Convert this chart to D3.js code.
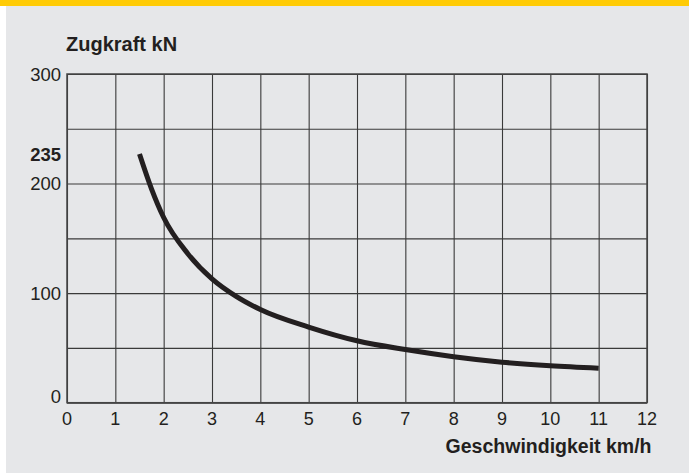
<!DOCTYPE html>
<html>
<head>
<meta charset="utf-8">
<script src="https://cdn.jsdelivr.net/npm/d3@7"></script>
<style>
  body { margin: 0; background: #ffffff; }
  svg { display: block; }
  .tick-label { font-family: "Liberation Sans", Arial, Helvetica, sans-serif; fill: #231f20; }
  .title { font-family: "Liberation Sans", Arial, Helvetica, sans-serif; font-weight: bold; fill: #231f20; }
</style>
</head>
<body>
<div id="chart"></div>
<script>
// Zugkraft over Geschwindigkeit
const speed = [1.5, 1.75, 2, 2.5, 3, 3.5, 4, 5, 6, 7, 8, 9, 10, 11];
const force = [227, 195, 169, 136, 113, 97, 85, 69, 56.5, 48.5, 42, 37, 33.7, 31.5];

const xTicks = [0, 1, 2, 3, 4, 5, 6, 7, 8, 9, 10, 11, 12];
const yGrid = [0, 50, 100, 150, 200, 250, 300];
const yLabelValues = [0, 100, 200, 227, 300];
const yLabelTexts = ["0", "100", "200", "235", "300"];

function createChart() {
    const W = 689, H = 473;
    const margin = { top: 74, right: 42, bottom: 70, left: 67 };
    const width = W - margin.left - margin.right;
    const height = H - margin.top - margin.bottom - 0.3;

    const svg = d3.select("#chart").append("svg")
        .attr("width", W)
        .attr("height", H);

    // background panel + yellow stripe
    svg.append("rect").attr("x", 6).attr("y", 6).attr("width", W - 6).attr("height", H - 6)
        .attr("fill", "#e6e7e9");
    svg.append("rect").attr("x", 0).attr("y", 0).attr("width", W).attr("height", 6)
        .attr("fill", "#ffcb05");

    const g = svg.append("g")
        .attr("transform", `translate(${margin.left},${margin.top})`);

    const x = d3.scaleLinear().domain([0, 12]).range([0, width]);
    const y = d3.scaleLinear().domain([0, 300]).range([height, 0]);

    // grid
    g.append("g")
        .attr("class", "grid")
        .attr("transform", `translate(0,${height})`)
        .call(d3.axisBottom(x).tickValues(xTicks).tickSize(-height).tickFormat(""))
        .call(a => a.select(".domain").remove());

    g.append("g")
        .attr("class", "grid")
        .call(d3.axisLeft(y).tickValues(yGrid).tickSize(-width).tickFormat(""))
        .call(a => a.select(".domain").remove());

    g.selectAll(".grid line")
        .attr("stroke", "#3a3a3a")
        .attr("stroke-width", 1.1);

    // frame
    g.append("rect")
        .attr("x", 0).attr("y", 0)
        .attr("width", width).attr("height", height)
        .attr("fill", "none")
        .attr("stroke", "#444")
        .attr("stroke-width", 1.5);

    // x labels
    g.selectAll(".xlab")
        .data(xTicks)
        .enter().append("text")
        .attr("class", "tick-label")
        .attr("x", d => x(d))
        .attr("y", height + 21.8)
        .attr("text-anchor", "middle")
        .style("font-size", "18px")
        .text(d => d);

    // y labels
    g.selectAll(".ylab")
        .data(yLabelValues)
        .enter().append("text")
        .attr("class", "tick-label")
        .attr("x", -6)
        .attr("y", d => y(d))
        .attr("dy", (d, i) => d === 0 ? "0.02em" : "0.36em")
        .attr("text-anchor", "end")
        .style("font-size", "18.5px")
        .style("font-weight", (d, i) => yLabelTexts[i] === "235" ? "bold" : "normal")
        .text((d, i) => yLabelTexts[i]);

    // axis titles
    svg.append("text")
        .attr("class", "title")
        .attr("x", 66)
        .attr("y", 50.7)
        .style("font-size", "20px")
        .text("Zugkraft kN");

    svg.append("text")
        .attr("class", "title")
        .attr("x", 651.5)
        .attr("y", 453)
        .attr("text-anchor", "end")
        .style("font-size", "19.5px")
        .text("Geschwindigkeit km/h");

    // curve
    const line = d3.line()
        .x(d => x(d[0]))
        .y(d => y(d[1]))
        .curve(d3.curveMonotoneX);

    g.append("path")
        .datum(d3.zip(speed, force))
        .attr("d", line)
        .attr("fill", "none")
        .attr("stroke", "#231f20")
        .attr("stroke-width", 5)
        .attr("stroke-linecap", "butt");
}

createChart();
</script>
</body>
</html>
